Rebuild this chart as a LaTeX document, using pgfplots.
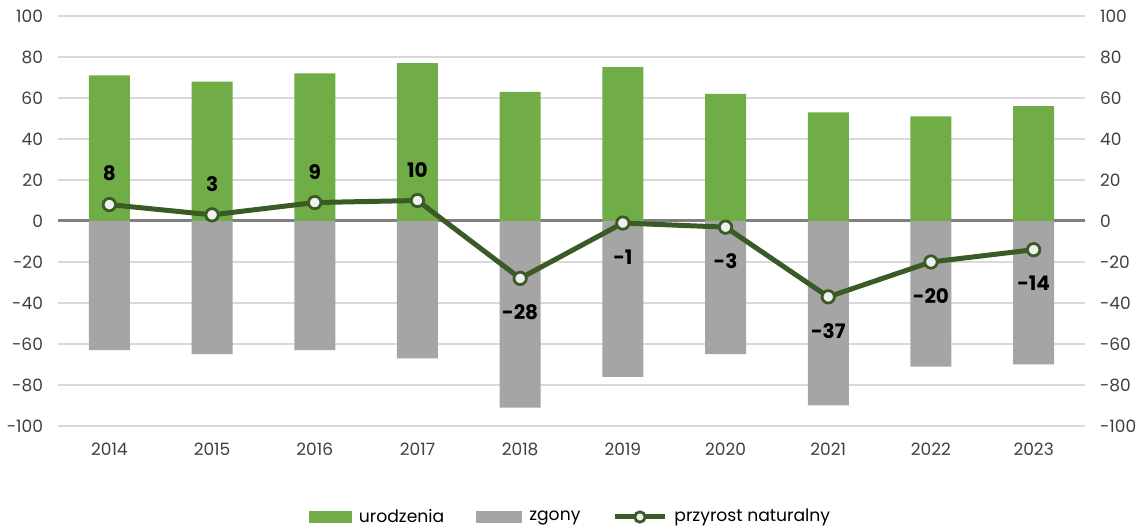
\documentclass[border=0pt]{standalone}
\usepackage{fontspec}
\setmainfont{Poppins}
\usepackage{pgfplots}
\usepackage{pgfplotstable}
\pgfplotsset{compat=1.18}

\definecolor{urgreen}{HTML}{70AD47}
\definecolor{zggray}{HTML}{A5A5A5}
\definecolor{pnline}{HTML}{3B5B25}
\definecolor{gridc}{HTML}{D9D9D9}
\definecolor{zeroc}{HTML}{808080}
\definecolor{tickc}{HTML}{404040}

% rok, urodzenia, zgony, przyrost naturalny
\pgfplotstableread{
x year ur  zg  pn
0 2014 71 -63   8
1 2015 68 -65   3
2 2016 72 -63   9
3 2017 77 -67  10
4 2018 63 -91 -28
5 2019 75 -76  -1
6 2020 62 -65  -3
7 2021 53 -90 -37
8 2022 51 -71 -20
9 2023 56 -70 -14
}\data

\pgfplotsset{
  base/.style={
    scale only axis, width=513.5pt, height=205pt,
    xmin=-0.5, xmax=9.5, ymin=-100, ymax=100,
    ytick={-100,-80,...,100},
    yticklabels={-100,-80,-60,-40,-20,0,20,40,60,80,100},
    major tick length=0pt,
    tick label style={font=\fontsize{8.5}{9}\selectfont, text=tickc},
  },
  lbl/.style={draw=none, mark=none, forget plot, nodes near coords,
    point meta=explicit symbolic,
    nodes near coords style={font=\fontsize{10}{11}\selectfont\bfseries,
      text=black, inner sep=7pt}},
}

\begin{document}
\begin{tikzpicture}
\useasboundingbox (-29pt,-51.5pt) rectangle (544.5pt,213pt);
\begin{axis}[
  base,
  axis line style={draw=none},
  xtick=data,
  xticklabels from table={\data}{year},
  xticklabel shift=5pt,
  yticklabel shift=4pt,
  ymajorgrids, grid style={gridc, line width=0.9pt},
  extra y ticks={0}, extra y tick labels={},
  extra y tick style={grid style={zeroc, line width=1.5pt}},
  legend columns=-1,
  legend style={draw=none, fill=none, at={(0.5,0)}, anchor=center, yshift=-45.5pt,
    font=\fontsize{8.6}{9}\selectfont,
    /tikz/every even column/.append style={column sep=14pt},
    /tikz/every odd column/.append style={column sep=1.5pt}},
]
\addplot[ybar, bar width=20.5pt, bar shift=0pt, fill=urgreen, draw=none,
  legend image code/.code={\fill[urgreen] (0pt,-2.8pt) rectangle (21.5pt,2.8pt);}]
  table[x=x, y=ur] {\data};
\addlegendentry{urodzenia}
\addplot[ybar, bar width=20.5pt, bar shift=0pt, fill=zggray, draw=none,
  legend image code/.code={\fill[zggray] (0pt,-2.8pt) rectangle (23pt,2.8pt);}]
  table[x=x, y=zg] {\data};
\addlegendentry{zgony}
\addplot[sharp plot, pnline, line width=2.5pt, mark=*, mark size=3.1pt,
  mark options={fill=white!94!black, draw=pnline, line width=1.4pt},
  legend image code/.code={\draw[pnline, line width=2.5pt] (0pt,0pt) -- (25pt,0pt);
    \draw[pnline, fill=white!94!black, line width=1.4pt] (12.5pt,0pt) circle (2.6pt);}]
  table[x=x, y=pn] {\data};
\addlegendentry{przyrost naturalny}
\addplot[lbl, restrict y to domain=0:100,
  every node near coord/.append style={anchor=south, yshift=4.5pt}]
  table[x=x, y=pn, meta=pn] {\data};
\addplot[lbl, restrict y to domain=-100:-0.5,
  every node near coord/.append style={anchor=north, yshift=-6pt}]
  table[x=x, y=pn, meta=pn] {\data};
\end{axis}
\begin{axis}[
  base,
  axis x line=none,
  axis y line*=right,
  y axis line style={draw=none},
  yticklabel shift=4pt,
]
\addplot[draw=none] coordinates {(0,0)};
\end{axis}
\end{tikzpicture}
\end{document}
